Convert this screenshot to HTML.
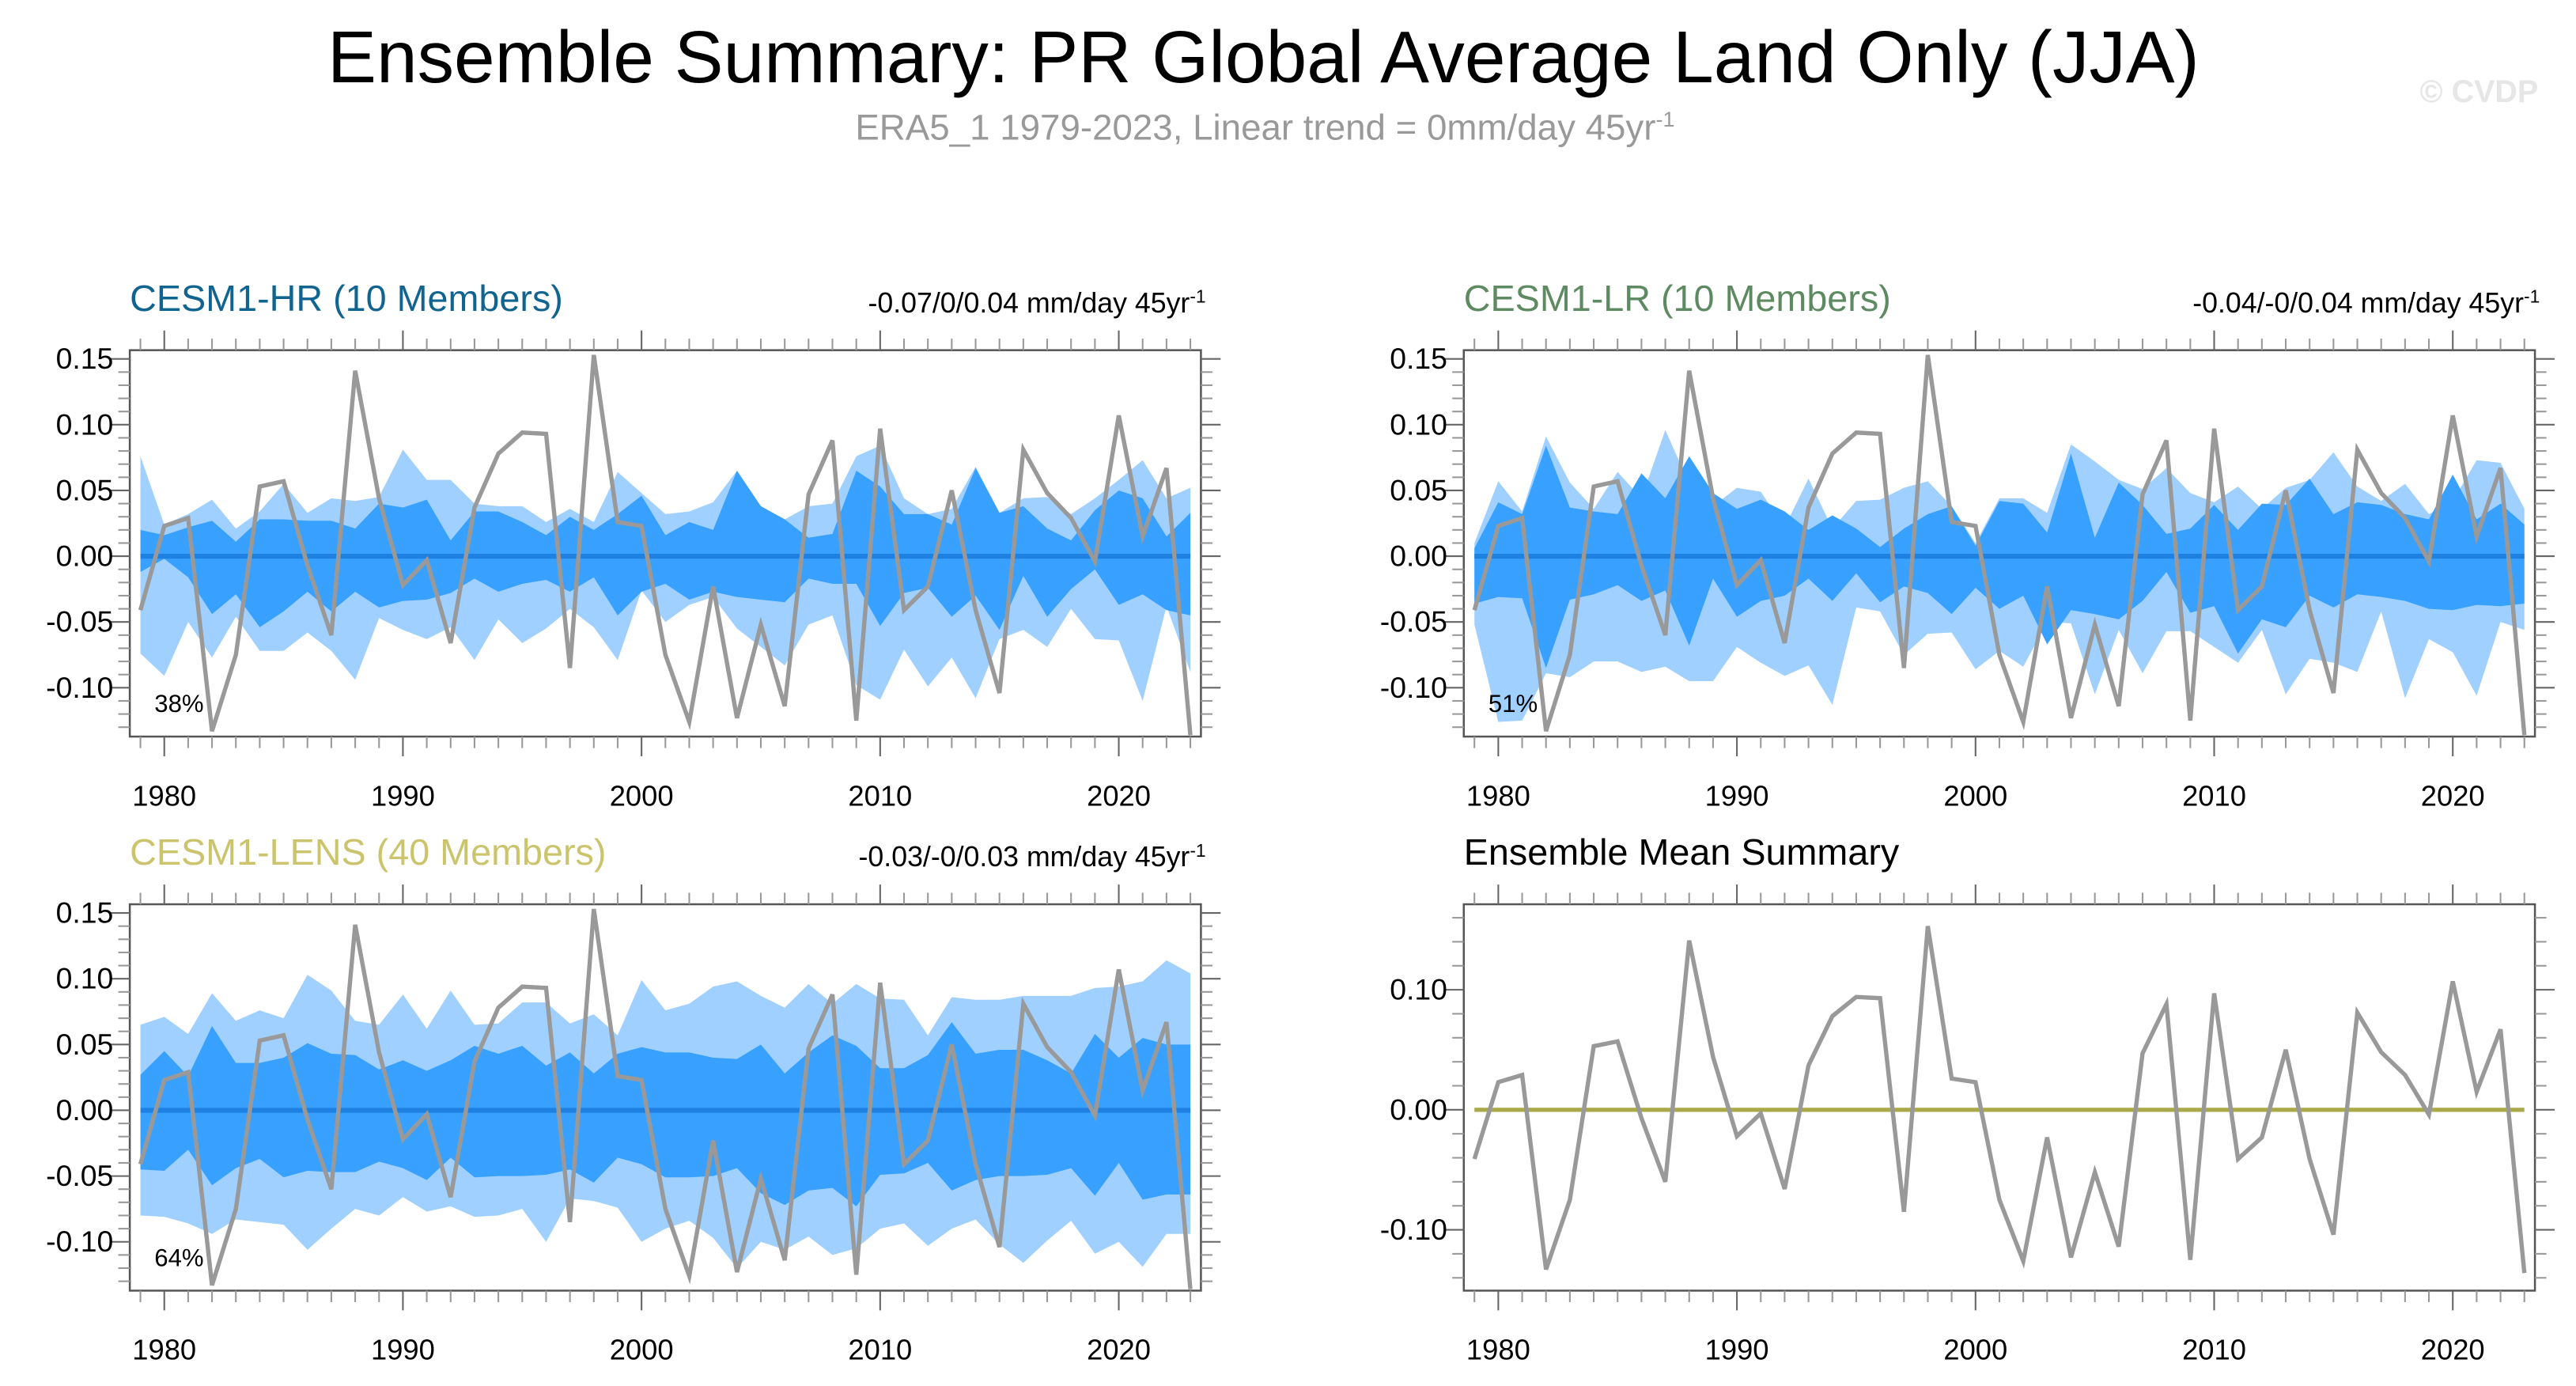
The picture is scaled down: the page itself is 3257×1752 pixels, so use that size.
<!DOCTYPE html>
<html><head><meta charset="utf-8"><style>
html,body{margin:0;padding:0;background:#fff;}
svg{display:block;font-family:"Liberation Sans",sans-serif;}
</style></head><body>
<svg id="c" width="3257" height="1752" viewBox="0 0 1568 843" preserveAspectRatio="none" xmlns="http://www.w3.org/2000/svg">
<text x="769" y="50" text-anchor="middle" font-size="44.7">Ensemble Summary: PR Global Average Land Only (JJA)</text>
<text x="770" y="85" text-anchor="middle" font-size="22" fill="#999">ERA5_1 1979-2023, Linear trend = 0mm/day 45yr<tspan dy="-8" font-size="13">-1</tspan></text>
<text x="1545" y="62" text-anchor="end" font-size="19" font-weight="bold" fill="#e6e6e6">© CVDP</text>
</svg>
<script>
const years=[];for(let y=1979;y<=2023;y++)years.push(y);
const obs=[-0.041,0.023,0.029,-0.133,-0.075,0.053,0.057,-0.007,-0.06,0.141,0.044,-0.022,-0.003,-0.066,0.037,0.078,0.094,0.093,-0.085,0.153,0.026,0.023,-0.075,-0.126,-0.023,-0.123,-0.052,-0.114,0.047,0.088,-0.125,0.097,-0.041,-0.023,0.05,-0.041,-0.104,0.081,0.048,0.029,-0.004,0.107,0.015,0.067,-0.136];
const hrLightUp=[.076,.024,.032,.043,.021,.034,.055,.033,.044,.042,.045,.081,.058,.058,.040,.038,.038,.026,.036,.026,.064,.048,.032,.034,.041,.065,.038,.028,.038,.040,.076,.084,.044,.032,.036,.068,.033,.044,.045,.032,.044,.058,.073,.044,.052];
const hrDarkUp=[.020,.016,.022,.027,.011,.028,.028,.027,.027,.021,.040,.037,.043,.012,.034,.034,.026,.016,.030,.020,.032,.046,.016,.026,.020,.065,.038,.028,.014,.017,.065,.053,.032,.032,.024,.067,.033,.038,.021,.012,.035,.050,.044,.015,.033];
const hrDarkLo=[-.012,-.002,-.016,-.044,-.029,-.054,-.042,-.027,-.042,-.027,-.039,-.034,-.033,-.028,-.017,-.027,-.021,-.018,-.027,-.016,-.045,-.027,-.021,-.033,-.027,-.031,-.033,-.035,-.017,-.021,-.021,-.053,-.028,-.024,-.046,-.030,-.056,-.015,-.046,-.025,-.010,-.037,-.029,-.041,-.045];
const hrLightLo=[-.074,-.091,-.050,-.077,-.046,-.072,-.072,-.058,-.072,-.094,-.047,-.056,-.063,-.054,-.079,-.048,-.066,-.055,-.040,-.054,-.079,-.026,-.050,-.037,-.031,-.055,-.069,-.083,-.052,-.045,-.098,-.109,-.071,-.099,-.077,-.108,-.063,-.056,-.069,-.040,-.063,-.064,-.110,-.038,-.088];
const lrLightUp=[.010,.057,.034,.091,.056,.036,.064,.044,.096,.055,.038,.052,.049,.022,.059,.021,.042,.043,.052,.057,.038,.010,.044,.044,.033,.085,.072,.058,.051,.067,.048,.041,.053,.036,.052,.058,.079,.053,.042,.055,.032,.042,.073,.071,.036];
const lrDarkUp=[.006,.041,.032,.084,.037,.034,.032,.063,.044,.076,.048,.036,.043,.034,.020,.031,.021,.007,.021,.032,.038,.008,.042,.040,.018,.078,.014,.056,.039,.017,.021,.039,.020,.040,.039,.059,.032,.041,.039,.032,.028,.062,.028,.040,.024];
const lrDarkLo=[-.036,-.031,-.032,-.085,-.033,-.029,-.022,-.034,-.026,-.068,-.017,-.046,-.034,-.030,-.017,-.034,-.013,-.035,-.023,-.028,-.044,-.024,-.040,-.030,-.067,-.041,-.044,-.048,-.034,-.012,-.043,-.038,-.074,-.048,-.054,-.030,-.039,-.029,-.031,-.034,-.040,-.041,-.037,-.038,-.036];
const lrLightLo=[-.052,-.126,-.125,-.089,-.092,-.080,-.080,-.088,-.084,-.095,-.095,-.069,-.081,-.091,-.083,-.113,-.039,-.042,-.075,-.059,-.058,-.086,-.072,-.084,-.050,-.051,-.105,-.056,-.089,-.057,-.057,-.069,-.081,-.056,-.105,-.078,-.081,-.088,-.042,-.108,-.063,-.073,-.106,-.050,-.056];
const lensLightUp=[.065,.071,.058,.089,.068,.076,.070,.103,.091,.068,.065,.088,.062,.091,.065,.066,.082,.082,.066,.073,.057,.099,.076,.081,.094,.098,.087,.078,.096,.081,.096,.085,.084,.057,.086,.084,.084,.087,.087,.087,.093,.094,.098,.114,.104];
const lensDarkUp=[.027,.045,.026,.064,.036,.036,.040,.051,.043,.042,.031,.038,.030,.038,.049,.043,.049,.034,.044,.028,.043,.048,.044,.044,.040,.039,.050,.028,.044,.057,.049,.032,.032,.042,.067,.043,.046,.046,.038,.028,.058,.040,.055,.050,.050];
const lensDarkLo=[-.045,-.046,-.030,-.057,-.044,-.037,-.051,-.046,-.047,-.047,-.039,-.044,-.053,-.036,-.051,-.050,-.050,-.049,-.045,-.055,-.036,-.041,-.051,-.051,-.050,-.044,-.063,-.072,-.061,-.059,-.073,-.049,-.048,-.040,-.061,-.053,-.050,-.050,-.049,-.044,-.065,-.040,-.068,-.064,-.064];
const lensLightLo=[-.080,-.081,-.086,-.094,-.083,-.085,-.087,-.106,-.090,-.075,-.080,-.066,-.077,-.073,-.081,-.080,-.075,-.100,-.067,-.069,-.074,-.100,-.090,-.084,-.097,-.120,-.100,-.106,-.096,-.110,-.105,-.090,-.086,-.103,-.090,-.083,-.102,-.116,-.099,-.084,-.109,-.100,-.119,-.094,-.094];
const xTicks=[1980,1990,2000,2010,2020];
const yTicksBand=[0.15,0.10,0.05,0.00,-0.05,-0.10];
const yTicksMean=[0.10,0.00,-0.10];

const svg=document.getElementById('c');const NS='http://www.w3.org/2000/svg';
function mk(tag,attrs,parent){const e=document.createElementNS(NS,tag);for(const k in attrs)e.setAttribute(k,attrs[k]);(parent||svg).appendChild(e);return e;}

function panel(opt){
  const g=mk('g',{});
  
  
  const L=opt.x0,R=opt.x0+652,T=opt.y0,B=opt.y0+235;
  const xs=y=>opt.x0+21+(y-1980)*14.525;
  const ys=v=>opt.zeroY-v*opt.pxPer;
  if(opt.bands){
    const [lu,du,dl,ll]=opt.bands;
    let p1='M'+years.map((y,i)=>xs(y)+','+ys(lu[i])).join('L')+'L'+years.slice().reverse().map((y,j)=>xs(y)+','+ys(ll[44-j])).join('L')+'Z';
    const a=mk('path',{d:p1,fill:'#a0d0ff'},g);
    
    
    let p2='M'+years.map((y,i)=>xs(y)+','+ys(du[i])).join('L')+'L'+years.slice().reverse().map((y,j)=>xs(y)+','+ys(dl[44-j])).join('L')+'Z';
    const b=mk('path',{d:p2,fill:'#38a0ff'},g);
    
    
  }
  const z=mk('line',{x1:xs(1979),x2:xs(2023),y1:ys(0),y2:ys(0),stroke:opt.zeroColor,'stroke-width':opt.bands?3:2.5},g);
  
  
  const o=mk('polyline',{points:years.map((y,i)=>xs(y)+','+ys(obs[i])).join(' '),fill:'none',stroke:'#999','stroke-width':2.6,'stroke-linejoin':'miter'},g);
  
  
  mk('rect',{x:L,y:T,width:652,height:235,fill:'none',stroke:'#555','stroke-width':1.2},g);
  for(let y=1976;y<=2026;y++){const x=xs(y);if(x<L||x>R)continue;const maj=y%10==0;
    mk('line',{x1:x,x2:x,y1:B,y2:B+(maj?12:7),stroke:maj?'#666':'#999','stroke-width':1},g);
    mk('line',{x1:x,x2:x,y1:T,y2:T-(maj?12:7),stroke:maj?'#666':'#999','stroke-width':1},g);}
  const step=opt.minor;
  for(let v=-0.2;v<=0.2001;v+=step){const y=ys(v);if(y<T||y>B)continue;const maj=opt.yTicks.some(t=>Math.abs(t-v)<1e-6);
    mk('line',{x1:L,x2:L-(maj?12:7),y1:y,y2:y,stroke:maj?'#666':'#999','stroke-width':1},g);
    mk('line',{x1:R,x2:R+(maj?12:7),y1:y,y2:y,stroke:maj?'#666':'#999','stroke-width':1},g);}
  opt.yTicks.forEach(v=>{const t=mk('text',{x:L-10,y:ys(v)+6,'text-anchor':'end','font-size':18},g);t.textContent=v.toFixed(2);
    
    });
  xTicks.forEach(v=>{const t=mk('text',{x:xs(v),y:B+42,'text-anchor':'middle','font-size':17.5},g);t.textContent=v;
    
    });
  const tt=mk('text',{x:L,y:T-24,'font-size':22.5,fill:opt.titleColor},g);tt.textContent=opt.title;
  
  
  if(opt.trend){const tr=mk('text',{x:R+3,y:T-23,'text-anchor':'end','font-size':17.2},g);
    tr.innerHTML=opt.trend+'<tspan dy="-6" font-size="11">-1</tspan>';
    
    }
  if(opt.pct){const pc=mk('text',{x:L+15,y:B-15,'font-size':15},g);pc.textContent=opt.pct;
    
    }
}
panel({name:'cesm1-hr-panel',x0:79,y0:213,zeroY:338.3,pxPer:800,bands:[hrLightUp,hrDarkUp,hrDarkLo,hrLightLo],zeroColor:'#1e80e0',yTicks:yTicksBand,minor:0.01,title:'CESM1-HR (10 Members)',titleColor:'#11648f',trend:'-0.07/0/0.04 mm/day 45yr',pct:'38%'});
panel({name:'cesm1-lr-panel',x0:891,y0:213,zeroY:338.3,pxPer:800,bands:[lrLightUp,lrDarkUp,lrDarkLo,lrLightLo],zeroColor:'#1e80e0',yTicks:yTicksBand,minor:0.01,title:'CESM1-LR (10 Members)',titleColor:'#5e8a62',trend:'-0.04/-0/0.04 mm/day 45yr',pct:'51%'});
panel({name:'cesm1-lens-panel',x0:79,y0:550,zeroY:675.3,pxPer:800,bands:[lensLightUp,lensDarkUp,lensDarkLo,lensLightLo],zeroColor:'#1e80e0',yTicks:yTicksBand,minor:0.01,title:'CESM1-LENS (40 Members)',titleColor:'#cbc46c',trend:'-0.03/-0/0.03 mm/day 45yr',pct:'64%'});
panel({name:'ensemble-mean-panel',x0:891,y0:550,zeroY:675,pxPer:730,bands:null,zeroColor:'#a9a948',yTicks:yTicksMean,minor:0.02,title:'Ensemble Mean Summary',titleColor:'#000',trend:null,pct:null});
</script>
</body></html>
